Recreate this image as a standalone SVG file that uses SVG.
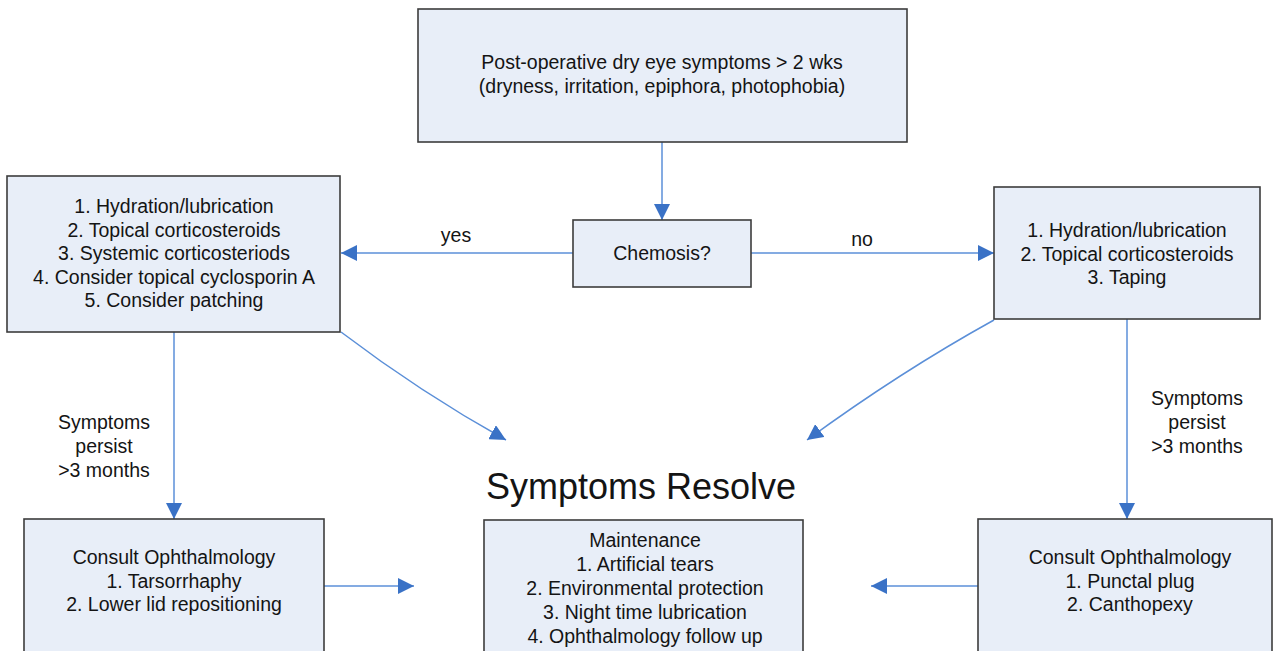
<svg xmlns="http://www.w3.org/2000/svg" width="1277" height="651" viewBox="0 0 1277 651">
<style>
.box{fill:#e8eef8;stroke:#3c3c3c;stroke-width:1.6}
.t{font-family:"Liberation Sans",Arial,sans-serif;font-size:19.5px;fill:#141414;text-anchor:middle}
.big{font-size:36px}
.c{fill:none;stroke:#5b8fd8;stroke-width:1.5}
</style>
<defs>
<marker id="ah" markerUnits="userSpaceOnUse" markerWidth="16" markerHeight="16" viewBox="0 0 14 14" refX="14" refY="7" orient="auto">
<path d="M0,0 L14,7 L0,14 z" fill="#3a72c6"/>
</marker>
</defs>
<rect width="1277" height="651" fill="#ffffff"/>
<g id="connectors">
<path class="c" d="M662,142 L662,220" marker-end="url(#ah)"/>
<path class="c" d="M573,253 L341,253" marker-end="url(#ah)"/>
<path class="c" d="M751,253 L994,253" marker-end="url(#ah)"/>
<path class="c" d="M341,332 Q420,392 506,440" marker-end="url(#ah)"/>
<path class="c" d="M994,320 Q900,372 807,440" marker-end="url(#ah)"/>
<path class="c" d="M174,332 L174,519" marker-end="url(#ah)"/>
<path class="c" d="M1127,319 L1127,519" marker-end="url(#ah)"/>
<path class="c" d="M324,586 L414,586" marker-end="url(#ah)"/>
<path class="c" d="M978,586 L871,586" marker-end="url(#ah)"/>
<text class="t" x="456" y="242">yes</text>
<text class="t" x="862" y="246">no</text>
<text class="t" x="104" y="429"><tspan x="104">Symptoms</tspan><tspan x="104" dy="24">persist</tspan><tspan x="104" dy="24">&gt;3 months</tspan></text>
<text class="t" x="1197" y="405"><tspan x="1197">Symptoms</tspan><tspan x="1197" dy="24">persist</tspan><tspan x="1197" dy="24">&gt;3 months</tspan></text>
</g>
<g id="start">
<rect class="box" x="418" y="9" width="489" height="133"/>
<text class="t" x="662" y="69"><tspan x="662">Post-operative dry eye symptoms &gt; 2 wks</tspan><tspan x="662" dy="24">(dryness, irritation, epiphora, photophobia)</tspan></text>
</g>
<g id="chemosis">
<rect class="box" x="573" y="220" width="178" height="67"/>
<text class="t" x="662" y="260">Chemosis?</text>
</g>
<g id="yes-treatment">
<rect class="box" x="7" y="176" width="333" height="156"/>
<text class="t" x="174" y="213"><tspan x="174">1. Hydration/lubrication</tspan><tspan x="174" dy="23.5">2. Topical corticosteroids</tspan><tspan x="174" dy="23.5">3. Systemic corticosteriods</tspan><tspan x="174" dy="23.5">4. Consider topical cyclosporin A</tspan><tspan x="174" dy="23.5">5. Consider patching</tspan></text>
</g>
<g id="no-treatment">
<rect class="box" x="994" y="187" width="266" height="132"/>
<text class="t" x="1127" y="237"><tspan x="1127">1. Hydration/lubrication</tspan><tspan x="1127" dy="23.5">2. Topical corticosteroids</tspan><tspan x="1127" dy="23.5">3. Taping</tspan></text>
</g>
<g id="resolve">
<text class="t big" x="641" y="499">Symptoms Resolve</text>
</g>
<g id="consult-left">
<rect class="box" x="24" y="519" width="300" height="145"/>
<text class="t" x="174" y="564"><tspan x="174">Consult Ophthalmology</tspan><tspan x="174" dy="23.5">1. Tarsorrhaphy</tspan><tspan x="174" dy="23.5">2. Lower lid repositioning</tspan></text>
</g>
<g id="maintenance">
<rect class="box" x="484" y="520" width="319" height="145"/>
<text class="t" x="645" y="547"><tspan x="645">Maintenance</tspan><tspan x="645" dy="24">1. Artificial tears</tspan><tspan x="645" dy="24">2. Environmental protection</tspan><tspan x="645" dy="24">3. Night time lubrication</tspan><tspan x="645" dy="24">4. Ophthalmology follow up</tspan></text>
</g>
<g id="consult-right">
<rect class="box" x="978" y="519" width="294" height="145"/>
<text class="t" x="1130" y="564"><tspan x="1130">Consult Ophthalmology</tspan><tspan x="1130" dy="23.5">1. Punctal plug</tspan><tspan x="1130" dy="23.5">2. Canthopexy</tspan></text>
</g>
</svg>
